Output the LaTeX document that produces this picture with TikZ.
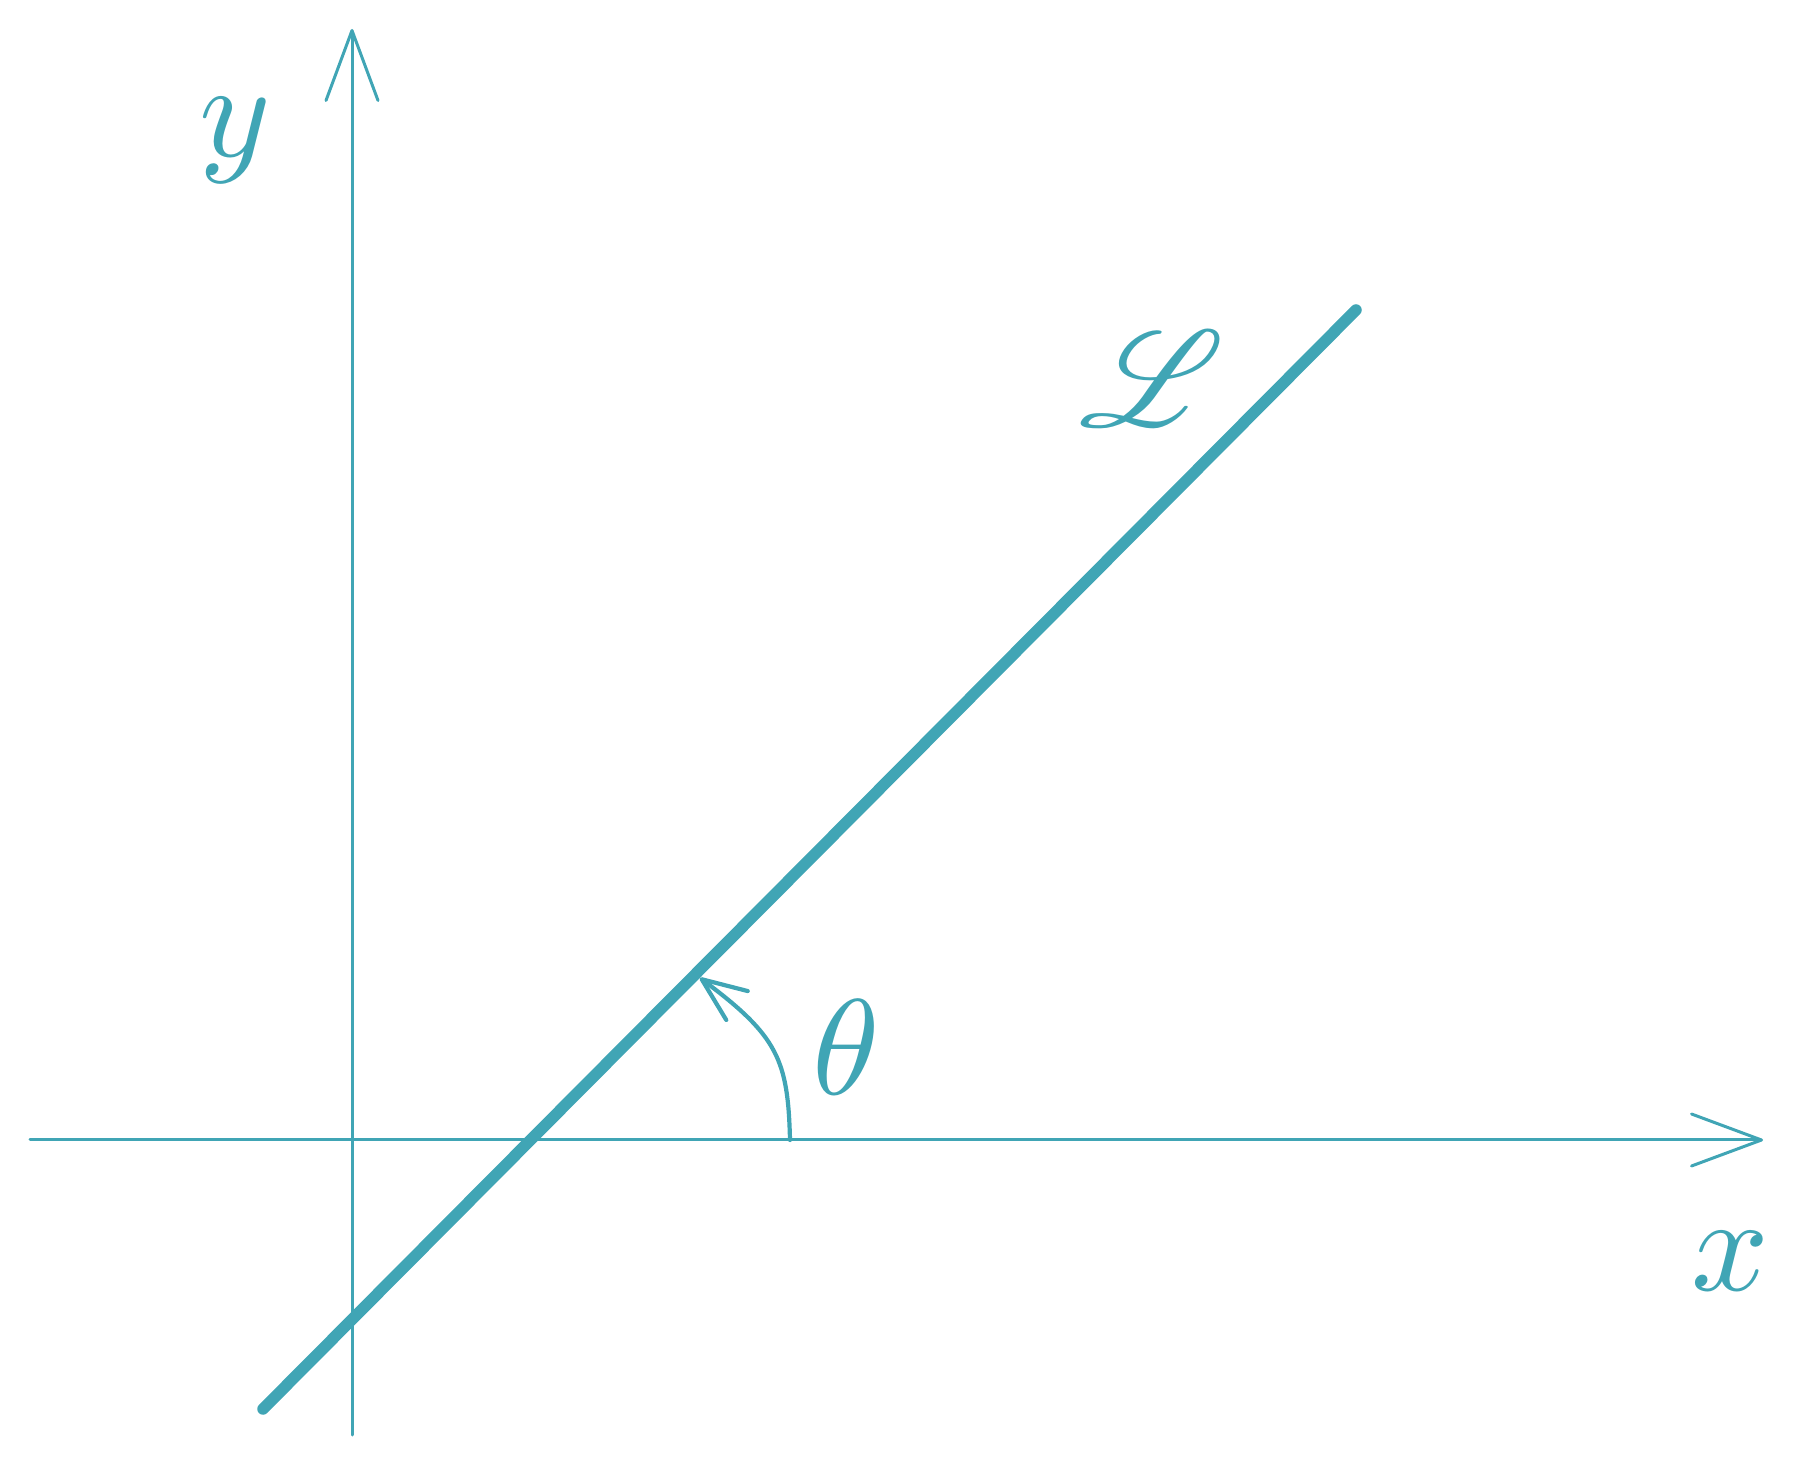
\documentclass[tikz,border=0pt]{standalone}
\usepackage{mathrsfs}
\usetikzlibrary{arrows.meta}
\definecolor{teal1}{HTML}{40A5B5}
\begin{document}
\begin{tikzpicture}[x=0.1pt,y=0.1pt, line cap=round, line join=round,
  axis/.style={draw=teal1, line width=0.3pt, -{Straight Barb[length=7pt,width=5.2pt,round]}},
  lineL/.style={draw=teal1, line width=1.15pt},
  anglearrow/.style={draw=teal1, line width=0.42pt, -{Straight Barb[length=4.4pt,width=3.6pt,round]}},
  lab/.style={text=teal1, inner sep=0pt, scale=1.36}]
\useasboundingbox (0,0) rectangle (1794,-1464);
\coordinate (xs) at (30,-1140);
\coordinate (xe) at (1763,-1140);
\coordinate (ys) at (352,-1435);
\coordinate (ye) at (352,-29);
\coordinate (ls) at (263,-1409);
\coordinate (le) at (1356,-310);
\coordinate (as) at (790,-1140);
\coordinate (ae) at (700,-978);
\coordinate (c1) at (788,-1060);
\coordinate (c2) at (778,-1036);
\draw[axis] (xs) -- (xe);
\draw[axis] (ys) -- (ye);
\draw[lineL] (ls) -- (le);
\draw[anglearrow] (as) .. controls (c1) and (c2) .. (ae);
\node[lab] (ylab) at (235,-140) {$y$};
\node[lab] (xlab) at (1730,-1261) {$x$};
\node[lab] (thlab) at (846,-1047) {$\theta$};
\node[lab] (Llab) at (1152,-379) {$\mathscr{L}$};
\end{tikzpicture}
\end{document}
